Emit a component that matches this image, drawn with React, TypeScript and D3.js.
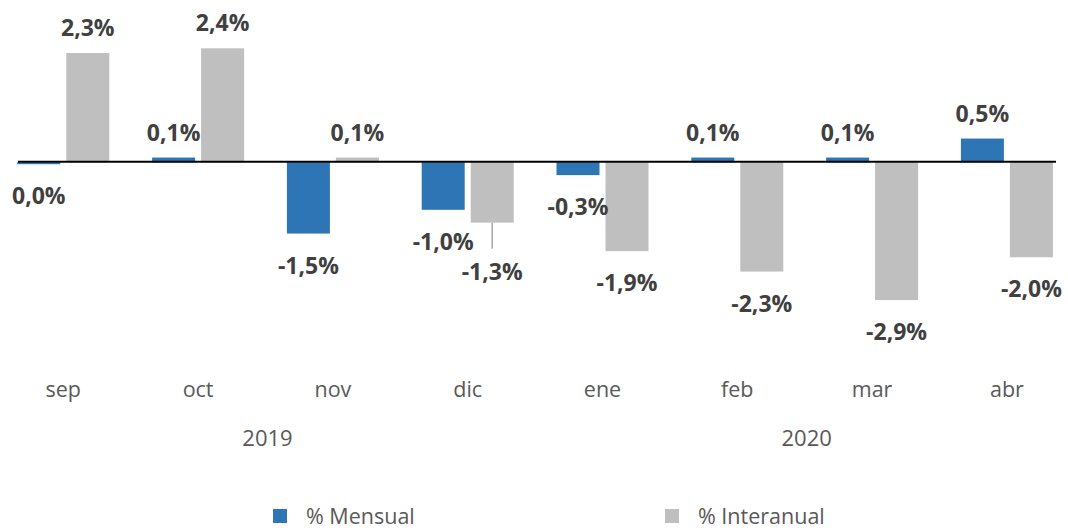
import React from 'react';
import * as d3 from 'd3';

// months and values (%)
const months = ['sep', 'oct', 'nov', 'dic', 'ene', 'feb', 'mar', 'abr'];
const mensual = [-0.04, 0.1, -1.5, -1.0, -0.27, 0.1, 0.1, 0.5];
const interanual = [2.3, 2.4, 0.1, -1.27, -1.87, -2.3, -2.9, -2.0];
const mensualLabels = ['0,0%', '0,1%', '-1,5%', '-1,0%', '-0,3%', '0,1%', '0,1%', '0,5%'];
const interanualLabels = ['2,3%', '2,4%', '0,1%', '-1,3%', '-1,9%', '-2,3%', '-2,9%', '-2,0%'];
const years = [
  { label: '2019', from: 'sep', to: 'dic' },
  { label: '2020', from: 'ene', to: 'abr' },
];
const seriesNames = ['% Mensual', '% Interanual'];
const colors = ['#2E75B6', '#BFBFBF'];

const W = 1068;
const H = 530;
const font = '"Open Sans", "Noto Sans", sans-serif';

export default function App() {
  const step = 134.8;
  const group = 92;
  const pIn = (step - group) / step;
  const x0 = d3.scaleBand<string>()
    .domain(months)
    .range([17.3 - (step - group) / 2, 17.3 - (step - group) / 2 + step * months.length])
    .paddingInner(pIn)
    .paddingOuter(pIn / 2);
  const x1 = d3.scaleBand<number>().domain([0, 1]).range([0, x0.bandwidth()]).paddingInner(6 / 49);
  const y = d3.scaleLinear().domain([-3, 3]).range([162.3 + 3 * 47.5, 162.3 - 3 * 47.5]);

  const series = [mensual, interanual];
  const labels = [mensualLabels, interanualLabels];
  const calloutIdx = 3; // dic interanual label moved down with a leader line

  const bars: React.ReactNode[] = [];
  const texts: React.ReactNode[] = [];
  months.forEach((m, i) => {
    series.forEach((s, k) => {
      const v = s[i];
      const bx = (x0(m) as number) + (x1(k) as number);
      const bw = x1.bandwidth();
      const top = Math.min(y(v), y(0));
      const h = Math.abs(y(v) - y(0));
      bars.push(<rect key={`b${k}${i}`} x={bx} y={top} width={bw} height={Math.max(h, 1)} fill={colors[k]} />);
      const cx = bx + bw / 2;
      let cy = v >= 0 ? y(v) - 25 : y(v) + 32;
      if (k === 1 && i === calloutIdx) {
        cy += 17;
        texts.push(<line key="callout" x1={cx} x2={cx} y1={y(v)} y2={y(v) + 26} stroke="#A6A6A6" strokeWidth={1.5} />);
      }
      texts.push(
        <text key={`t${k}${i}`} x={cx} y={cy} dy="0.35em" textAnchor="middle"
          fontFamily={font} fontWeight={700} fontSize={23} fill="#404040">{labels[k][i]}</text>
      );
    });
  });

  const center = (m: string) => (x0(m) as number) + x0.bandwidth() / 2;

  return (
    <svg width={W} height={H} style={{ position: 'absolute', left: 0, top: 0, background: '#fff' }}>
      {bars}
      <line x1={18} x2={1056} y1={y(0) - 0.5} y2={y(0) - 0.5} stroke="#000" strokeWidth={2} />
      {texts}
      {months.map((m) => (
        <text key={m} x={center(m)} y={389} dy="0.35em" textAnchor="middle"
          fontFamily={font} fontSize={21.5} fill="#595959">{m}</text>
      ))}
      {years.map((yr) => (
        <text key={yr.label} x={(center(yr.from) + center(yr.to)) / 2 + 2} y={438} dy="0.35em" textAnchor="middle"
          fontFamily={font} fontSize={22} fill="#595959">{yr.label}</text>
      ))}
      {seriesNames.map((n, k) => (
        <g key={n} transform={`translate(${k === 0 ? 273 : 665},509)`}>
          <rect width={14} height={14} fill={colors[k]} />
          <text x={33} y={7} dy="0.35em" fontFamily={font} fontSize={21.5} fill="#595959">{n}</text>
        </g>
      ))}
    </svg>
  );
}
